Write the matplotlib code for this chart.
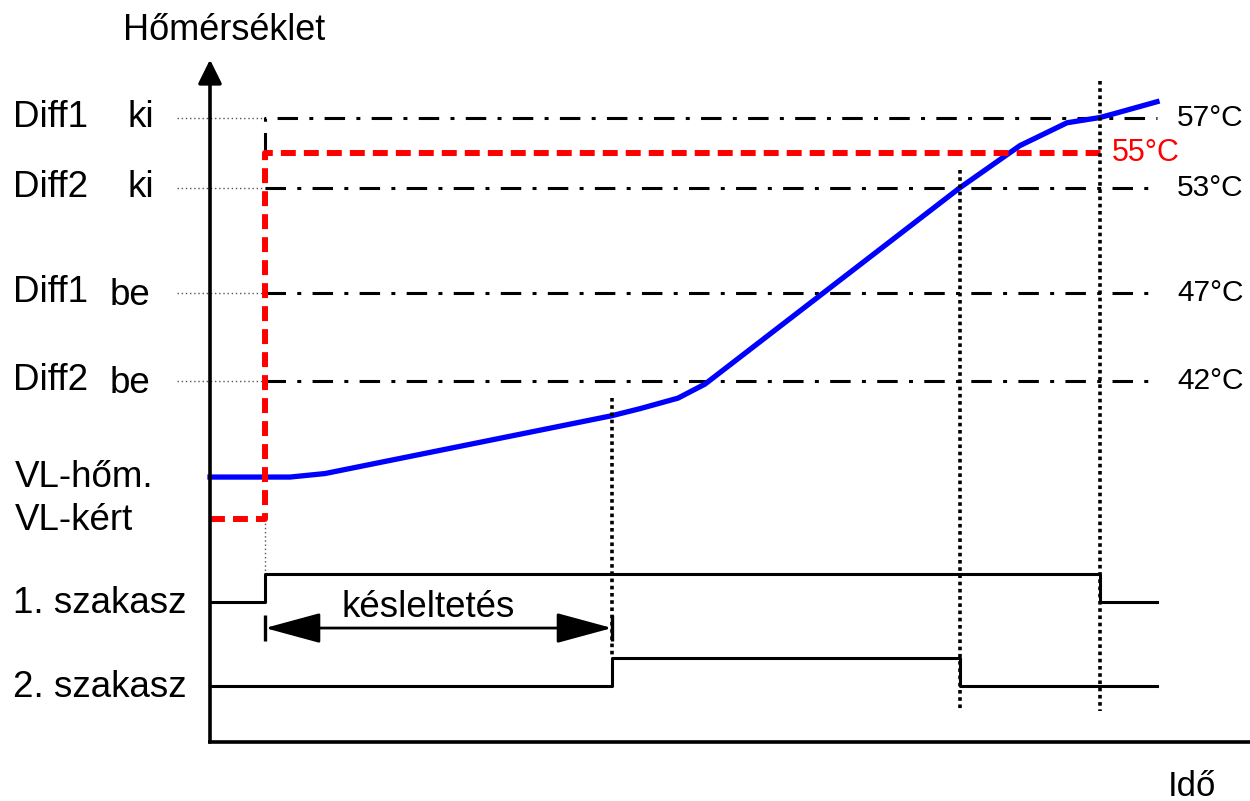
import matplotlib
matplotlib.use("Agg")
import matplotlib.pyplot as plt

plt.rcParams['font.family'] = ['Liberation Sans', 'DejaVu Sans']

# --- data -------------------------------------------------------------
# switching thresholds (°C) and their names
level_temps = [57, 53, 47, 42]
level_names = [("Diff1", "ki"), ("Diff2", "ki"), ("Diff1", "be"), ("Diff2", "be")]
level_labels = ["57°C", "53°C", "47°C", "42°C"]

# setpoint (VL-kért): low before the demand, then 55 °C
setpoint_time = [0, 5.5, 89.3]
setpoint_temp = [34.1, 55, 55]
setpoint_label = "55°C"

# flow temperature (VL-hőm.)
flow_time = [0, 8, 11.5, 40.2, 43, 46.8, 49.5, 75, 81, 85.7, 89, 90.3, 94.7]
flow_temp = [36.5, 36.5, 36.7, 40.0, 40.4, 41.0, 41.8, 53.0, 55.4, 56.7, 57.0, 57.2, 57.9]

# stage outputs (0 = off, 1 = on), step changes at the given times
stage1_time = [0, 5.5, 89, 94.7]
stage1_state = [0, 1, 0, 0]
stage2_time = [0, 40.2, 75, 94.7]
stage2_state = [0, 1, 0, 0]

t_demand = 5.5       # setpoint jump / stage 1 on
t_stage2_on = 40.2   # end of delay
t_stage2_off = 75    # flow reaches 53 °C
t_stage1_off = 89    # flow reaches 57 °C
t_end = 94.7

# --- layout -----------------------------------------------------------
fig = plt.figure(figsize=(12.5, 8.01), dpi=100)
ax = fig.add_axes([0, 0, 1, 1])            # temperature part
ax.set_xlim(-21, 104)
ax.set_ylim(18.03, 63.70)
ax.axis('off')

ax2 = fig.add_axes([0, 0, 1, 1], sharex=ax)  # stage outputs part
ax2.set_ylim(-4.107, 24.5)
ax2.axis('off')
ax2.patch.set_visible(False)


def sig_to_temp(t, level):
    """Convert a y value of the stage axes into the temperature axes."""
    disp = ax2.transData.transform((t, level))
    return ax.transData.inverted().transform(disp)[1]


stage1_base, stage2_base, amp = 3.0, 0.0, 1.0
axis_level = -2.0

lw_sig = 2.2
dashdot = (6.7, 3.7, 1.3, 3.7)

# axes: time axis and temperature arrow
ax2.plot([-0.2, 104], [axis_level, axis_level], color='black', lw=2.6,
         solid_capstyle='butt', clip_on=False)
ax2.annotate("", xy=(0, 60.3), xycoords=ax.transData,
             xytext=(0, axis_level), textcoords=ax2.transData,
             arrowprops=dict(arrowstyle='-|>,head_length=1.45,head_width=0.72',
                             mutation_scale=10, lw=2.6, color='black',
                             shrinkA=0, shrinkB=0))

# threshold lines with leaders and labels
for i, (temp, (n1, n2), lab) in enumerate(zip(level_temps, level_names, level_labels)):
    ax.plot([-3.3, t_demand], [temp, temp], color='#555555', lw=1.0,
            dashes=(1, 2), zorder=2)
    if i == 0:
        xs, ys = [t_demand, t_demand, t_end], [setpoint_temp[-1], temp, temp]
    else:
        xs, ys = [t_demand, t_end], [temp, temp]
    ax.plot(xs, ys, color='black', lw=2.2, dashes=dashdot, zorder=3)
    ax.text(t_end + 2.0, temp, lab, fontsize=21.5, va='center', ha='left')
    ax.text(-19.7, temp, n1, fontsize=26.5, va='center', ha='left')
    ax.text(-8.3 if n2 == "ki" else -10.0, temp - (0.15 if n2 == "be" else 0), n2,
            fontsize=26.5, va='center', ha='left')

# flow temperature
ax.plot(flow_time, flow_temp, color='#0000ff', lw=3.8, zorder=4,
        solid_joinstyle='round')

# setpoint
ax.plot(setpoint_time, setpoint_temp, drawstyle='steps-post', color='#ff0000',
        lw=4.3, dashes=(2.5, 1.35), zorder=5)
ax.text(setpoint_time[-1] + 0.9, setpoint_temp[-1], setpoint_label, color='#ff0000',
        fontsize=22, va='center', ha='left')

ax.text(-19.5, flow_temp[0], "VL-hőm.", fontsize=26.5, va='center', ha='left')
ax.text(-19.5, setpoint_temp[0] - 0.1, "VL-kért", fontsize=26.5, va='center', ha='left')

# stage outputs
ax2.plot(stage1_time, [stage1_base + amp * s for s in stage1_state],
         drawstyle='steps-post', color='black', lw=lw_sig, zorder=3)
ax2.plot(stage2_time, [stage2_base + amp * s for s in stage2_state],
         drawstyle='steps-post', color='black', lw=lw_sig, zorder=3)
ax2.text(-19.7, stage1_base - 0.05, "1. szakasz", fontsize=26.5, va='center', ha='left')
ax2.text(-19.7, stage2_base - 0.05, "2. szakasz", fontsize=26.5, va='center', ha='left')

# thin leader from setpoint jump down to stage 1
ax.plot([t_demand, t_demand], [setpoint_temp[0], sig_to_temp(t_demand, stage1_base + amp)],
        color='#555555', lw=1.0, dashes=(1, 2), zorder=2)

# event markers (dotted verticals)
for t, top, bottom in [(t_stage2_on, 41.0, stage2_base + amp),
                       (t_stage2_off, 54.0, -0.9),
                       (t_stage1_off, 59.1, -0.9)]:
    ax.plot([t, t], [top, sig_to_temp(t, bottom)], color='black', lw=2.6,
            dashes=(1, 1), dash_capstyle='butt', zorder=6)

# delay arrow
delay_y = 2.07
ax2.annotate("", xy=(t_demand, delay_y), xytext=(t_stage2_on, delay_y),
             arrowprops=dict(arrowstyle='<|-|>,head_length=3.5,head_width=0.95',
                             mutation_scale=10, lw=2.0, color='black',
                             shrinkA=0, shrinkB=0))
for t in (t_demand, t_stage2_on):
    ax2.plot([t, t], [delay_y - 0.46, delay_y + 0.46], color='black', lw=2.4,
             solid_capstyle='butt')
ax2.text(21.8, 2.82, "késleltetés", fontsize=26.5, va='center', ha='center')

# axis titles
fig.text(123 / 1250, 1 - 30 / 801, "Hőmérséklet", fontsize=26, va='center', ha='left')
fig.text(1168 / 1250, 1 - 786 / 801, "Idő", fontsize=25, va='center', ha='left')

fig.savefig("out.png", dpi=100)
